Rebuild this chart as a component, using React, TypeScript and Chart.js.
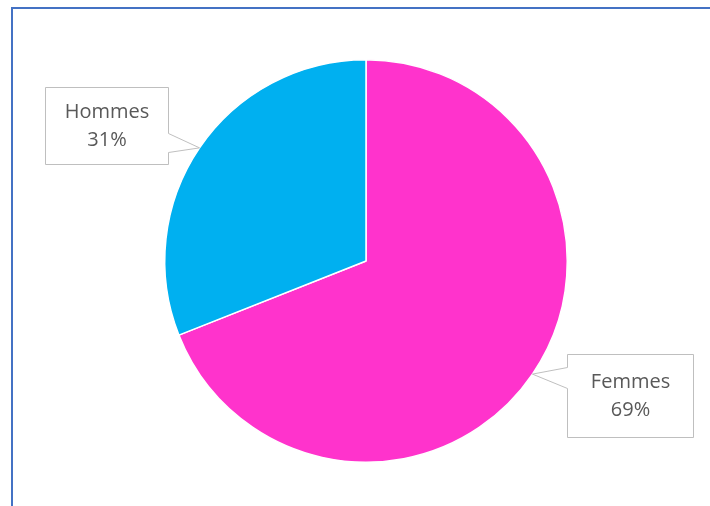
import { useEffect, useRef } from "react";
import { Chart, registerables } from "chart.js";
import type { Plugin } from "chart.js";

Chart.register(...registerables);

const labels = ["Femmes", "Hommes"];
const values = [69, 31];
const sliceColors = ["#FF33CC", "#00B0F0"];

// callout boxes, placed relative to the pie centre (px)
const callouts = [
  { left: 201, top: 93, width: 126, height: 83, side: "left", base: [13, 34] },
  { left: -321, top: -174, width: 123, height: 77, side: "right", base: [46, 65] },
];

const calloutPlugin: Plugin<"pie"> = {
  id: "callouts",
  afterDraw(chart) {
    const ctx = chart.ctx;
    const meta = chart.getDatasetMeta(0);
    const total = values.reduce((a, b) => a + b, 0);
    meta.data.forEach((el: any, i) => {
      const c = callouts[i];
      const { x, y, outerRadius, startAngle, endAngle } = el.getProps(
        ["x", "y", "outerRadius", "startAngle", "endAngle"],
        true,
      );
      const mid = (startAngle + endAngle) / 2;
      const tx = x + Math.cos(mid) * outerRadius;
      const ty = y + Math.sin(mid) * outerRadius;
      const L = Math.round(x + c.left) + 0.5;
      const T = Math.round(y + c.top) + 0.5;
      const R = L + c.width;
      const B = T + c.height;

      ctx.save();
      ctx.beginPath();
      if (c.side === "right") {
        ctx.moveTo(L, T);
        ctx.lineTo(R, T);
        ctx.lineTo(R, T + c.base[0]);
        ctx.lineTo(tx, ty);
        ctx.lineTo(R, T + c.base[1]);
        ctx.lineTo(R, B);
        ctx.lineTo(L, B);
      } else {
        ctx.moveTo(L, T);
        ctx.lineTo(R, T);
        ctx.lineTo(R, B);
        ctx.lineTo(L, B);
        ctx.lineTo(L, T + c.base[1]);
        ctx.lineTo(tx, ty);
        ctx.lineTo(L, T + c.base[0]);
      }
      ctx.closePath();
      ctx.fillStyle = "#FFFFFF";
      ctx.fill();
      ctx.strokeStyle = "#BFBFBF";
      ctx.lineWidth = 1;
      ctx.stroke();

      const pct = Math.round((values[i] / total) * 100) + "%";
      ctx.fillStyle = "#595959";
      ctx.font = '20px "Open Sans"';
      ctx.textAlign = "center";
      ctx.textBaseline = "middle";
      const cx = (L + R) / 2;
      const cy = (T + B) / 2;
      ctx.fillText(labels[i], cx, cy - 14);
      ctx.fillText(pct, cx, cy + 14);
      ctx.restore();
    });
  },
};

export default function App() {
  const canvasRef = useRef<HTMLCanvasElement | null>(null);
  const chartRef = useRef<Chart | null>(null);

  useEffect(() => {
    if (!canvasRef.current) return;

    chartRef.current = new Chart(canvasRef.current, {
      type: "pie",
      data: {
        labels,
        datasets: [
          {
            data: values,
            backgroundColor: sliceColors,
            borderColor: "#FFFFFF",
            borderWidth: 1.5,
          },
        ],
      },
      options: {
        animation: false,
        responsive: true,
        maintainAspectRatio: false,
        layout: {
          padding: { left: 164, top: 59, right: 142, bottom: 43 },
        },
        plugins: {
          legend: { display: false },
          tooltip: { enabled: false },
        },
      },
      plugins: [calloutPlugin],
    });

    return () => {
      if (chartRef.current) {
        chartRef.current.destroy();
        chartRef.current = null;
      }
    };
  }, []);

  return (
    <div
      style={{
        position: "fixed",
        left: 0,
        top: 0,
        width: 710,
        height: 506,
        background: "#FFFFFF",
        overflow: "hidden",
      }}
    >
      <div
        style={{
          position: "absolute",
          left: 11,
          top: 7,
          right: -10,
          bottom: -10,
          border: "2px solid #4472C4",
        }}
      />
      <div style={{ position: "absolute", inset: 0 }}>
        <canvas ref={canvasRef} />
      </div>
    </div>
  );
}
